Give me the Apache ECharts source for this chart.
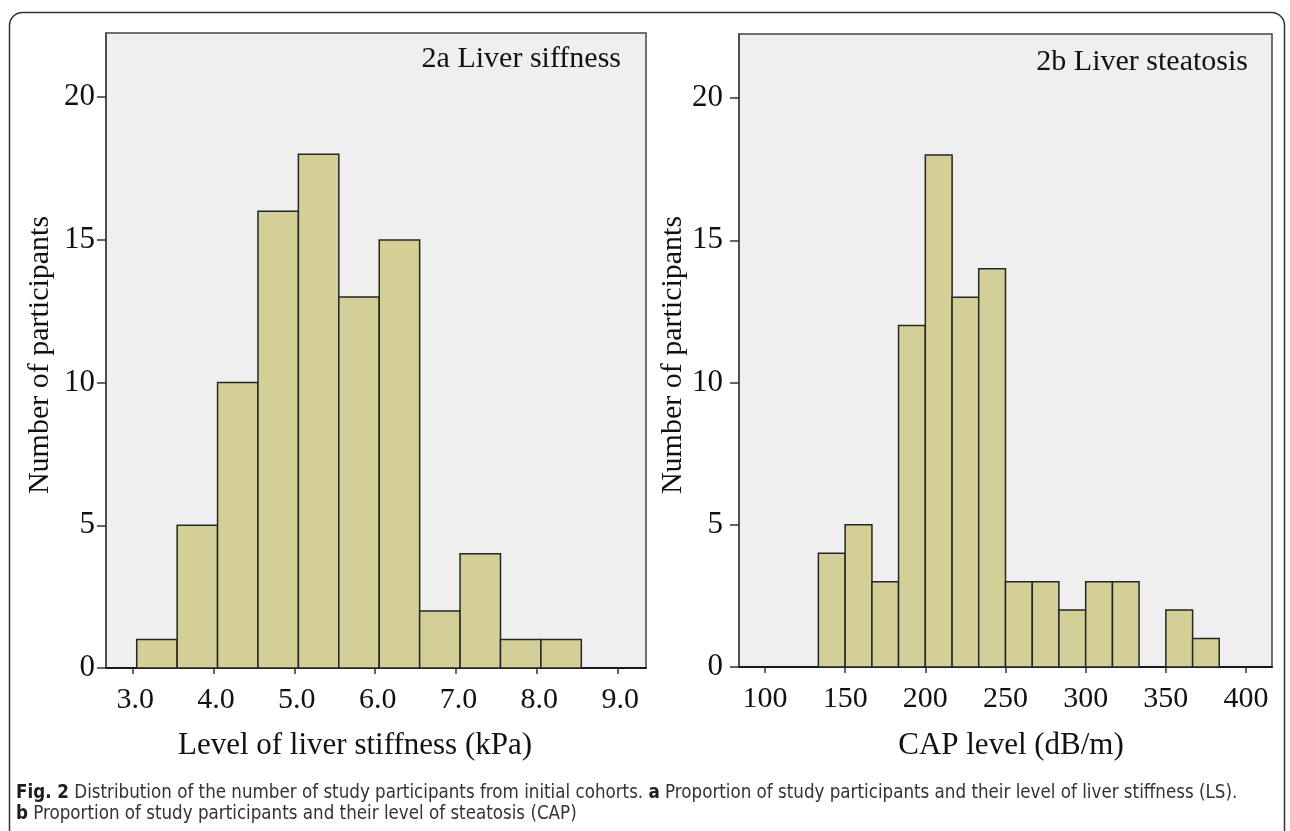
<!DOCTYPE html>
<html>
<head>
<meta charset="utf-8">
<script src="https://cdn.jsdelivr.net/npm/echarts@6/dist/echarts.min.js"></script>
<style>
html,body{margin:0;padding:0;background:#fff;}
#chart{width:1290px;height:831px;}
</style>
</head>
<body>
<div id="chart"></div>
<script>
// ---- Data ----
// 2a: liver stiffness histogram (kPa)
const lsBinEdges = [3.05, 3.55, 4.05, 4.55, 5.05, 5.55, 6.05, 6.55, 7.05, 7.55, 8.05, 8.55];
const lsCounts   = [1, 5, 10, 16, 18, 13, 15, 2, 4, 1, 1];
const lsTicks    = [3, 4, 5, 6, 7, 8, 9];

// 2b: CAP histogram (dB/m)
const capBinEdges = [133.3, 150, 166.7, 183.3, 200, 216.7, 233.3, 250, 266.7, 283.3, 300, 316.7, 333.3, 350, 366.7, 383.3];
const capCounts   = [4, 5, 3, 12, 18, 13, 14, 3, 3, 2, 3, 3, 0, 2, 1];
const capTicks    = [100, 150, 200, 250, 300, 350, 400];

const yTicks = [0, 5, 10, 15, 20];

const panelTitles = ['2a Liver siffness', '2b Liver steatosis'];
const xTitles = ['Level of liver stiffness (kPa)', 'CAP level (dB/m)'];
const yTitle = 'Number of participants';
const captionLine1 = '{b|Fig. 2} Distribution of the number of study participants from initial cohorts. {b|a} Proportion of study participants and their level of liver stiffness (LS).';
const captionLine2 = '{b|b} Proportion of study participants and their level of steatosis (CAP)';

// ---- Styling ----
const SERIF = '"Liberation Serif", "DejaVu Serif", serif';
const CAPFONT = '"DejaVu Sans Condensed", "Liberation Sans Narrow", "Open Sans", sans-serif';
const BAR_FILL = '#d3cf97';
const BAR_STROKE = '#262626';
const PLOT_BG = '#efefef';

function toBins(edges, counts) {
  const out = [];
  for (let i = 0; i < counts.length; i++) out.push([edges[i], edges[i + 1], counts[i]]);
  return out;
}

function renderBar(params, api) {
  const c = api.value(2);
  if (!c) return null;
  const p0 = api.coord([api.value(0), c]);
  const p1 = api.coord([api.value(1), 0]);
  return {
    type: 'rect',
    shape: { x: p0[0], y: p0[1], width: p1[0] - p0[0], height: p1[1] - p0[1] },
    style: { fill: BAR_FILL, stroke: BAR_STROKE, lineWidth: 1.5 }
  };
}

function xAxisCfg(gridIndex, min, max, ticks, fmt, padLeft) {
  return {
    type: 'value', gridIndex, min, max,
    axisLine: { show: true, onZero: false, lineStyle: { color: '#1a1a1a', width: 2 } },
    axisTick: { show: true, customValues: ticks, length: 6, inside: false, lineStyle: { color: '#333', width: 1.5 } },
    axisLabel: { show: true, customValues: ticks, formatter: fmt, fontFamily: SERIF, fontSize: 30, color: '#111', margin: 17, padding: [0, 0, 0, padLeft] },
    splitLine: { show: false }
  };
}
function yAxisCfg(gridIndex, margin) {
  return {
    type: 'value', gridIndex, min: 0, max: 22.25,
    axisLine: { show: true, lineStyle: { color: '#444', width: 1.5 } },
    axisTick: { show: true, customValues: yTicks, length: 9, inside: false, lineStyle: { color: '#333', width: 1.5 } },
    axisLabel: { show: true, customValues: yTicks, fontFamily: SERIF, fontSize: 31, color: '#111', margin: margin },
    splitLine: { show: false }
  };
}

const chart = echarts.init(document.getElementById('chart'), null, { renderer: 'canvas' });

const option = {
  backgroundColor: '#ffffff',
  animation: false,
  grid: [
    { left: 106, top: 33, width: 540, height: 635, show: true, backgroundColor: PLOT_BG, borderColor: '#444', borderWidth: 1.5 },
    { left: 739, top: 34, width: 533, height: 633, show: true, backgroundColor: PLOT_BG, borderColor: '#444', borderWidth: 1.5 }
  ],
  xAxis: [
    xAxisCfg(0, 2.67, 9.35, lsTicks, v => v.toFixed(1), 5),
    xAxisCfg(1, 83.8, 416.2, capTicks, v => String(v), 0)
  ],
  yAxis: [yAxisCfg(0, 11), yAxisCfg(1, 16)],
  series: [
    { type: 'custom', xAxisIndex: 0, yAxisIndex: 0, renderItem: renderBar, encode: { x: [0, 1], y: 2 }, data: toBins(lsBinEdges, lsCounts) },
    { type: 'custom', xAxisIndex: 1, yAxisIndex: 1, renderItem: renderBar, encode: { x: [0, 1], y: 2 }, data: toBins(capBinEdges, capCounts) }
  ],
  graphic: [
    { type: 'rect', z: -10, shape: { x: 9.5, y: 12.5, width: 1275, height: 900, r: 13 }, style: { fill: 'none', stroke: '#333', lineWidth: 1.5 } },
    { type: 'text', x: 621, y: 59, style: { text: panelTitles[0], font: '30px ' + SERIF, fill: '#111', align: 'right', verticalAlign: 'middle' } },
    { type: 'text', x: 1248, y: 62, style: { text: panelTitles[1], font: '30px ' + SERIF, fill: '#111', align: 'right', verticalAlign: 'middle' } },
    { type: 'text', x: 355, y: 746, style: { text: xTitles[0], font: '31px ' + SERIF, fill: '#111', align: 'center', verticalAlign: 'middle' } },
    { type: 'text', x: 1011, y: 746, style: { text: xTitles[1], font: '31px ' + SERIF, fill: '#111', align: 'center', verticalAlign: 'middle' } },
    { type: 'text', x: 40, y: 355, rotation: Math.PI / 2, style: { text: yTitle, font: '30px ' + SERIF, fill: '#111', align: 'center', verticalAlign: 'middle' } },
    { type: 'text', x: 673, y: 355, rotation: Math.PI / 2, style: { text: yTitle, font: '30px ' + SERIF, fill: '#111', align: 'center', verticalAlign: 'middle' } },
    { type: 'text', x: 16, y: 793, style: {
        text: captionLine1,
        font: '18.6px ' + CAPFONT, fill: '#333', verticalAlign: 'middle',
        rich: { b: { fontWeight: 'bold', fontFamily: CAPFONT, fontSize: 18.6, fill: '#1e1e1e' } }
    } },
    { type: 'text', x: 16, y: 814, style: {
        text: captionLine2,
        font: '18.6px ' + CAPFONT, fill: '#333', verticalAlign: 'middle',
        rich: { b: { fontWeight: 'bold', fontFamily: CAPFONT, fontSize: 18.6, fill: '#1e1e1e' } }
    } }
  ]
};
chart.setOption(option);
</script>
</body>
</html>
